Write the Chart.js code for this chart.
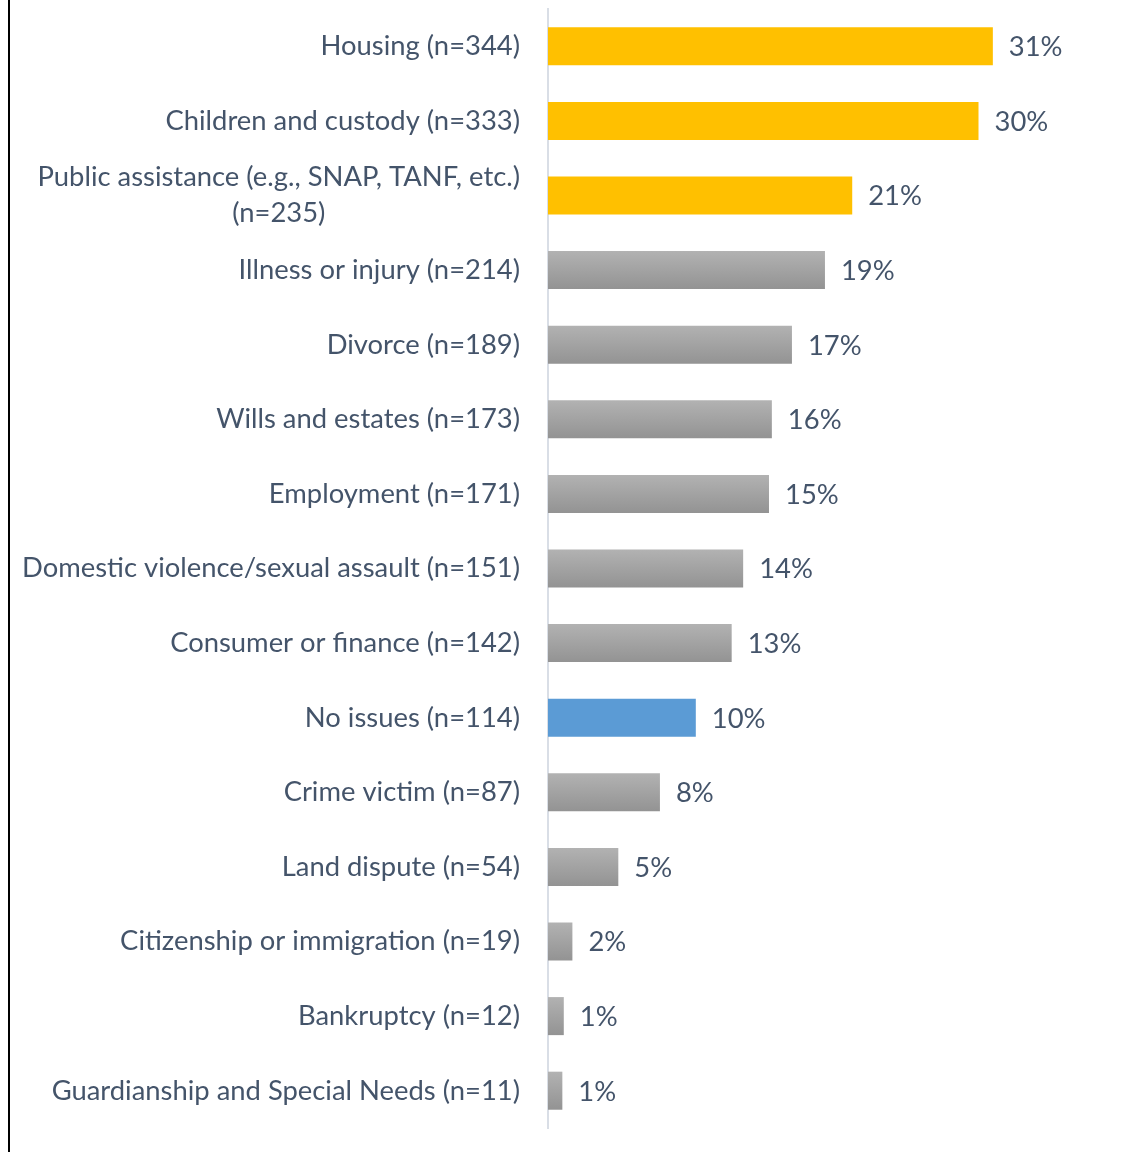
<!DOCTYPE html>
<html>
<head>
<meta charset="utf-8">
<script src="https://cdn.jsdelivr.net/npm/chart.js@4.4.1/dist/chart.umd.min.js"></script>
<style>
    body { margin: 0; background: #fff; }
    #wrap { position: relative; width: 1145px; height: 1152px; }
    #edge { position: absolute; left: 8px; top: 0; width: 2px; height: 1152px; background: #000; }
</style>
</head>
<body>
<div id="wrap">
    <div id="edge"></div>
    <canvas id="issuesChart"></canvas>
</div>
<script>
// legal issues reported, share of respondents (%)
const categories = [
    'Housing (n=344)',
    'Children and custody (n=333)',
    ['Public assistance (e.g., SNAP, TANF, etc.)', '(n=235)'],
    'Illness or injury (n=214)',
    'Divorce (n=189)',
    'Wills and estates (n=173)',
    'Employment (n=171)',
    'Domestic violence/sexual assault (n=151)',
    'Consumer or finance (n=142)',
    'No issues (n=114)',
    'Crime victim (n=87)',
    'Land dispute (n=54)',
    'Citizenship or immigration (n=19)',
    'Bankruptcy (n=12)',
    'Guardianship and Special Needs (n=11)'
];
const shares = [31.0, 30.0, 21.2, 19.3, 17.0, 15.6, 15.4, 13.6, 12.8, 10.3, 7.8, 4.9, 1.7, 1.1, 1.0];
const topIssues = [0, 1, 2];
const noIssueRow = 9;

const textColor = '#44546A';
const fontSpec = '27.4px Lato';
const labelGap = 28;
const lineHeight = 36;

// gray bars get a soft top-to-bottom shade
function barColor(context) {
    const i = context.dataIndex;
    if (topIssues.includes(i)) return '#FFC000';
    if (i === noIssueRow) return '#5B9BD5';
    const chart = context.chart;
    if (!chart.chartArea || !chart.scales.y) return '#A3A3A3';
    const y = chart.scales.y.getPixelForValue(i);
    const half = 19;
    const grad = chart.ctx.createLinearGradient(0, y - half, 0, y + half);
    grad.addColorStop(0, '#B2B2B2');
    grad.addColorStop(1, '#939393');
    return grad;
}

const categoryLabels = {
    id: 'categoryLabels',
    afterDraw(chart) {
        const ctx = chart.ctx;
        const yScale = chart.scales.y;
        const right = chart.chartArea.left - labelGap;
        ctx.save();
        ctx.font = fontSpec;
        ctx.fillStyle = textColor;
        ctx.textBaseline = 'middle';
        ctx.textAlign = 'center';
        categories.forEach((label, i) => {
            const lines = [].concat(label);
            const y = yScale.getPixelForTick(i);
            const blockWidth = Math.max(...lines.map(l => ctx.measureText(l).width));
            const cx = right - blockWidth / 2;
            lines.forEach((line, j) => {
                ctx.fillText(line, cx, y + (j - (lines.length - 1) / 2) * lineHeight);
            });
        });
        ctx.restore();
    }
};

const valueLabels = {
    id: 'valueLabels',
    afterDatasetsDraw(chart) {
        const ctx = chart.ctx;
        const bars = chart.getDatasetMeta(0).data;
        ctx.save();
        ctx.font = fontSpec;
        ctx.fillStyle = textColor;
        ctx.textBaseline = 'middle';
        ctx.textAlign = 'left';
        bars.forEach((bar, i) => {
            ctx.fillText(Math.round(shares[i]) + '%', bar.x + 16, bar.y + 1);
        });
        ctx.restore();
    }
};

new Chart(document.getElementById('issuesChart'), {
    type: 'bar',
    data: {
        labels: categories,
        datasets: [{
            data: shares,
            backgroundColor: barColor,
            borderWidth: 0,
            categoryPercentage: 1,
            barPercentage: 0.51
        }]
    },
    options: {
        indexAxis: 'y',
        responsive: true,
        maintainAspectRatio: false,
        animation: false,
        layout: { padding: { left: 0, right: 23, top: 9, bottom: 24 } },
        plugins: {
            legend: { display: false },
            tooltip: { enabled: false }
        },
        scales: {
            x: {
                display: false,
                min: 0,
                max: 40
            },
            y: {
                grid: { display: false },
                border: { display: true, color: '#D9DEE6', width: 2 },
                ticks: { display: false },
                afterFit(scale) { scale.width = 548; }
            }
        }
    },
    plugins: [categoryLabels, valueLabels]
});
</script>
</body>
</html>
